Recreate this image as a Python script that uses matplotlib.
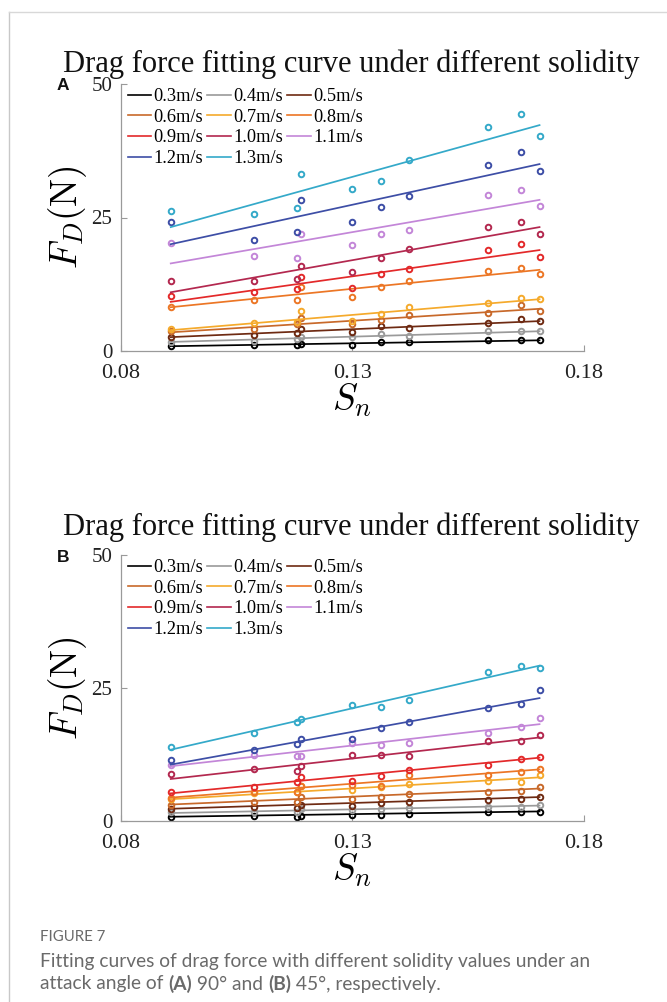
import matplotlib
matplotlib.use("Agg")
import matplotlib.pyplot as plt
from matplotlib.lines import Line2D

# ---------------- data ----------------
speeds = ["0.3m/s", "0.4m/s", "0.5m/s", "0.6m/s", "0.7m/s", "0.8m/s",
          "0.9m/s", "1.0m/s", "1.1m/s", "1.2m/s", "1.3m/s"]
colors = ["#000000", "#9a9a9a", "#6e2a12", "#c8692a", "#f5aa2c", "#ec7625",
          "#e3292a", "#b3284f", "#c386d8", "#3d4ea6", "#34a9c9"]

Sn = [0.0908, 0.1088, 0.1180, 0.1189, 0.1300, 0.1361, 0.1422, 0.1592, 0.1663, 0.1704]

# Panel A (attack angle 90 deg), measured drag force (N) per speed
A_03 = [0.9, 1.1, 1.1, 1.4, 1.2, 1.7, 1.7, 2.0, 2.1, 2.0]
A_04 = [1.7, 1.9, 2.3, 2.7, 2.7, 3.1, 2.9, 3.7, 3.8, 3.7]
A_05 = [2.6, 3.0, 3.3, 4.1, 3.5, 4.6, 4.4, 5.2, 5.9, 5.6]
A_06 = [3.8, 4.1, 5.1, 6.2, 5.1, 5.8, 6.7, 7.2, 8.6, 7.5]
A_07 = [4.2, 5.2, 5.5, 7.4, 5.6, 6.9, 8.2, 9.0, 10.0, 9.7]
A_08 = [8.2, 9.6, 9.6, 11.9, 10.1, 11.9, 13.1, 15.0, 15.5, 14.5]
A_09 = [10.3, 11.0, 11.7, 13.9, 11.8, 14.5, 15.4, 18.9, 20.0, 17.6]
A_10 = [13.2, 13.2, 13.4, 16.0, 14.8, 17.5, 19.1, 23.3, 24.1, 22.0]
A_11 = [20.2, 17.7, 17.5, 21.9, 19.9, 21.9, 22.7, 29.2, 30.2, 27.1]
A_12 = [24.2, 20.7, 22.2, 28.2, 24.2, 27.0, 29.1, 34.9, 37.3, 33.8]
A_13 = [26.2, 25.6, 26.7, 33.2, 30.3, 31.8, 35.7, 41.9, 44.3, 40.3]
# fitted line values at first and last Sn
A_fit_lo = [0.9, 1.7, 2.6, 3.5, 3.9, 8.2, 9.2, 11.0, 16.4, 20.0, 23.2]
A_fit_hi = [2.0, 3.7, 5.6, 7.9, 9.7, 15.2, 18.9, 23.2, 28.3, 35.0, 42.3]

# Panel B (attack angle 45 deg)
B_03 = [0.8, 0.9, 0.7, 0.9, 1.1, 1.2, 1.3, 1.6, 1.7, 1.7]
B_04 = [1.6, 1.7, 1.7, 2.3, 2.1, 2.3, 2.4, 2.7, 2.7, 3.0]
B_05 = [2.3, 2.6, 2.5, 3.1, 2.9, 3.4, 3.6, 3.9, 4.1, 4.5]
B_06 = [3.1, 3.5, 3.5, 4.5, 4.1, 4.5, 5.0, 5.4, 5.7, 6.3]
B_07 = [4.2, 5.2, 5.4, 6.6, 5.9, 6.3, 7.0, 7.6, 7.4, 8.7]
B_08 = [4.4, 5.4, 5.4, 6.6, 6.7, 6.6, 8.7, 8.6, 9.2, 9.8]
B_09 = [5.4, 6.4, 7.3, 8.2, 7.6, 8.5, 9.6, 10.6, 11.7, 12.1]
B_10 = [8.8, 9.7, 9.4, 10.4, 12.4, 12.4, 12.2, 15.0, 15.0, 16.2]
B_11 = [10.5, 12.4, 12.2, 12.2, 14.6, 14.3, 14.7, 16.6, 17.7, 19.4]
B_12 = [11.4, 13.3, 14.4, 15.5, 15.5, 17.4, 18.7, 21.2, 22.0, 24.6]
B_13 = [14.0, 16.6, 18.7, 19.2, 21.8, 21.5, 22.7, 28.1, 29.2, 28.7]
B_fit_lo = [0.8, 1.5, 2.3, 3.1, 4.1, 4.4, 5.2, 7.9, 10.3, 10.6, 13.4]
B_fit_hi = [1.8, 2.9, 4.5, 6.1, 8.2, 9.7, 11.9, 15.7, 18.2, 23.1, 29.2]

A_series = [A_03, A_04, A_05, A_06, A_07, A_08, A_09, A_10, A_11, A_12, A_13]
B_series = [B_03, B_04, B_05, B_06, B_07, B_08, B_09, B_10, B_11, B_12, B_13]

xticks = [0.08, 0.13, 0.18]
yticks = [0, 25, 50]
title = "Drag force fitting curve under different solidity"

# ---------------- style ----------------
plt.rcParams["mathtext.fontset"] = "cm"
SERIF = "Liberation Serif"
AXC = "#9a9a9a"

W, H = 667, 1002
fig = plt.figure(figsize=(W / 100, H / 100), dpi=100)


def fx(px):
    return px / W


def fy(py):
    return 1 - py / H


def panel(top_px, bottom_px, title_base, series, fit_lo, fit_hi, letter):
    left, right = 120.7, 584.0
    ax = fig.add_axes([fx(left), fy(bottom_px), (right - left) / W, (bottom_px - top_px) / H])
    for ys, lo, hi, c in zip(series, fit_lo, fit_hi, colors):
        ax.plot(Sn, ys, linestyle="none", marker="o", ms=4.0, mfc="none", mec=c, mew=1.4)
        ax.plot([Sn[0], Sn[-1]], [lo, hi], color=c, lw=1.25)
    ax.set_xlim(0.08, 0.18)
    ax.set_ylim(0, 50)
    ax.set_xticks(xticks)
    ax.set_xticklabels(["0.08", "0.13", "0.18"])
    ax.set_yticks(yticks)
    for s in ("top", "right"):
        ax.spines[s].set_visible(False)
    for s in ("left", "bottom"):
        ax.spines[s].set_color(AXC)
        ax.spines[s].set_linewidth(0.9)
    ax.tick_params(axis="both", direction="in", length=4, width=0.8, color=AXC)
    ax.tick_params(axis="x", pad=9, labelsize=16, labelcolor="#222222")
    ax.tick_params(axis="y", pad=6, labelsize=15, labelcolor="#222222")
    for lab in ax.get_xticklabels() + ax.get_yticklabels():
        lab.set_fontfamily(SERIF)
    ax.set_ylabel(r"$F_D(\mathrm{N})$", fontsize=27, va="center")
    ax.yaxis.set_label_coords(-0.115, 0.5)
    ax.set_xlabel(r"$S_n$", fontsize=27, va="center")
    ax.xaxis.set_label_coords(0.5, -0.185)
    # legend (row-major order across 3 columns)
    handles = [Line2D([], [], color=c, lw=1.2) for c in colors]
    order = [0, 3, 6, 9, 1, 4, 7, 10, 2, 5, 8]
    ax.legend([handles[i] for i in order], [speeds[i] for i in order],
              ncol=3, loc="upper left", bbox_to_anchor=(0.015, 0.985),
              frameon=False, prop={"family": SERIF, "size": 13.2},
              handlelength=1.3, handletextpad=0.12, columnspacing=0.22,
              labelspacing=0.2, borderpad=0.0, borderaxespad=0.0)
    fig.text(fx(63), fy(top_px + 2), letter, fontsize=12.5, fontweight="bold",
             family="Liberation Sans", ha="center", va="center", color="#111111")
    fig.text(fx(351), fy(title_base), title, fontsize=22, family=SERIF,
             ha="center", va="baseline", color="#111111")
    return ax


panel(84, 351, 72, A_series, A_fit_lo, A_fit_hi, "A")
panel(555, 821, 535, B_series, B_fit_lo, B_fit_hi, "B")

# page border lines
fig.add_artist(Line2D([fx(9), fx(9)], [fy(12), 0], color="#c8c8c8", lw=1.0))
fig.add_artist(Line2D([fx(9), 1], [fy(12), fy(12)], color="#d8d8d8", lw=1.0))

# caption
CAP = "Lato"
capc = "#6a6a6a"
CS = 13.8
fig.text(fx(40), fy(937), "FIGURE 7", fontsize=10.8, family=CAP, color=capc, va="center")
fig.text(fx(40), fy(961), "Fitting curves of drag force with different solidity values under an",
         fontsize=CS, family=CAP, color=capc, va="center")

fig.canvas.draw()
r = fig.canvas.get_renderer()
parts = [("attack angle of\u00a0", "normal"), ("(A)", "bold"), ("\u00a090\u00b0 and\u00a0", "normal"),
         ("(B)", "bold"), ("\u00a045\u00b0, respectively.", "normal")]
xpos = 40
for txt, wt in parts:
    t = fig.text(fx(xpos), fy(984), txt, fontsize=CS, family=CAP, color=capc,
                 va="center", fontweight=wt)
    bb = t.get_window_extent(renderer=r)
    xpos += bb.width

fig.savefig("out.png", dpi=100)
